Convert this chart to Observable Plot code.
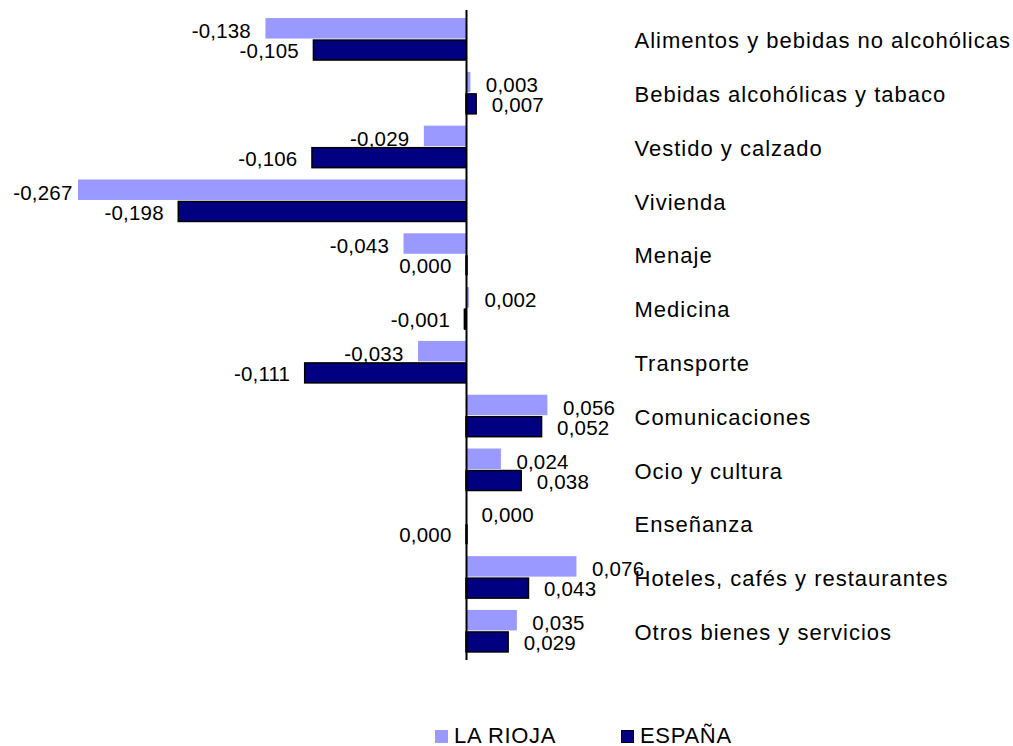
<!DOCTYPE html>
<html>
<head>
<meta charset="utf-8">
<script src="https://cdn.jsdelivr.net/npm/d3@7"></script>
<script src="https://cdn.jsdelivr.net/npm/@observablehq/plot@0.6"></script>
<style>
  html, body { margin: 0; padding: 0; background: #fff; }
  body { width: 1013px; height: 746px; position: relative; overflow: hidden; font-family: "Liberation Sans", Arial, sans-serif; }
  #chart svg { display: block; }
  .cat text { letter-spacing: 1px; }
  .vals text { letter-spacing: 0.2px; }
  #legend { position: absolute; left: 0; top: 723px; width: 1013px; height: 23px; font-size: 22px; letter-spacing: 0.7px; color: #000; }
  #legend .sw { position: absolute; top: 7px; width: 13px; height: 13px; box-sizing: border-box; }
  #legend .lab { position: absolute; top: 0; line-height: 26px; white-space: nowrap; }
</style>
</head>
<body>
<div id="chart"></div>
<div id="legend"></div>
<script>
const categories = [
  "Alimentos y bebidas no alcohólicas",
  "Bebidas alcohólicas y tabaco",
  "Vestido y calzado",
  "Vivienda",
  "Menaje",
  "Medicina",
  "Transporte",
  "Comunicaciones",
  "Ocio y cultura",
  "Enseñanza",
  "Hoteles, cafés y restaurantes",
  "Otros bienes y servicios"
];
const seriesNames = ["LA RIOJA", "ESPAÑA"];
const laRioja = [-0.138, 0.003, -0.029, -0.267, -0.043, 0.002, -0.033, 0.056, 0.024, 0.000, 0.076, 0.035];
const espana  = [-0.105, 0.007, -0.106, -0.198, 0.000, -0.001, -0.111, 0.052, 0.038, 0.000, 0.043, 0.029];
const colors = ["#9999FF", "#000080"];

const rows = [];
categories.forEach((c, i) => {
  rows.push({cat: c, series: seriesNames[0], v: laRioja[i]});
  rows.push({cat: c, series: seriesNames[1], v: espana[i]});
});
const W = 1013, H = 715;
const x0 = 466;            // zero position
const K = 388 / 0.267;     // px per unit
const fmt = v => v.toFixed(3).replace(".", ",");
const isLeft = d => d.v < 0 || (d.v === 0 && d.series === seriesNames[1]);
const minLeftAnchor = (72 + 15 - x0) / K; // keep left labels inside the page
const labelX = d => isLeft(d) ? Math.max(d.v, minLeftAnchor) : d.v;

const rioja = rows.filter(d => d.series === seriesNames[0]);
const esp = rows.filter(d => d.series === seriesNames[1]);
const dyFor = {[seriesNames[0]]: -8, [seriesNames[1]]: 12};

function labels(data, series, left) {
  return Plot.text(data.filter(d => isLeft(d) === left), {
    y: "cat", x: labelX, text: d => fmt(d.v),
    textAnchor: left ? "end" : "start",
    dx: left ? -15 : 15, dy: dyFor[series], fontSize: 20.5, fill: "#000", className: "vals"
  });
}

const chart = Plot.plot({
  width: W,
  height: H,
  marginTop: 10,
  marginBottom: 55,
  marginLeft: 0,
  marginRight: 385,
  x: {domain: [0, 0.1], range: [x0, x0 + 0.1 * K], axis: null},
  y: {domain: categories, paddingInner: 0.22, paddingOuter: 0.15, round: false, axis: null},
  style: {fontFamily: "Liberation Sans, Arial, sans-serif", background: "#fff", overflow: "visible"},
  marks: [
    Plot.barX(rioja, {y: "cat", x: "v", fill: colors[0], insetBottom: 21.5}),
    Plot.barX(esp, {y: "cat", x: "v", fill: colors[1], stroke: "#000", strokeWidth: 1.5, insetTop: 22}),
    Plot.tickX(esp.filter(d => Math.abs(d.v) < 0.002), {y: "cat", x: "v", stroke: "#000", strokeWidth: 2.5, insetTop: 22}),
    Plot.ruleX([0], {stroke: "#000", strokeWidth: 2}),
    labels(rioja, seriesNames[0], true),
    labels(rioja, seriesNames[0], false),
    labels(esp, seriesNames[1], true),
    labels(esp, seriesNames[1], false),
    Plot.axisY({anchor: "right", tickSize: 0, tickPadding: 6, fontSize: 22, dy: 1.5, className: "cat", fill: "#000", label: null})
  ]
});
document.getElementById("chart").append(chart);

// legend
const legend = document.getElementById("legend");
const legendPos = [{sw: 435, lab: 454}, {sw: 621, lab: 640}];
seriesNames.forEach((name, i) => {
  const sw = document.createElement("div");
  sw.className = "sw";
  sw.style.left = legendPos[i].sw + "px";
  sw.style.background = colors[i];
  if (i === 1) sw.style.border = "1.5px solid #000";
  const lab = document.createElement("div");
  lab.className = "lab";
  lab.style.left = legendPos[i].lab + "px";
  lab.textContent = name;
  legend.append(sw, lab);
});
</script>
</body>
</html>
